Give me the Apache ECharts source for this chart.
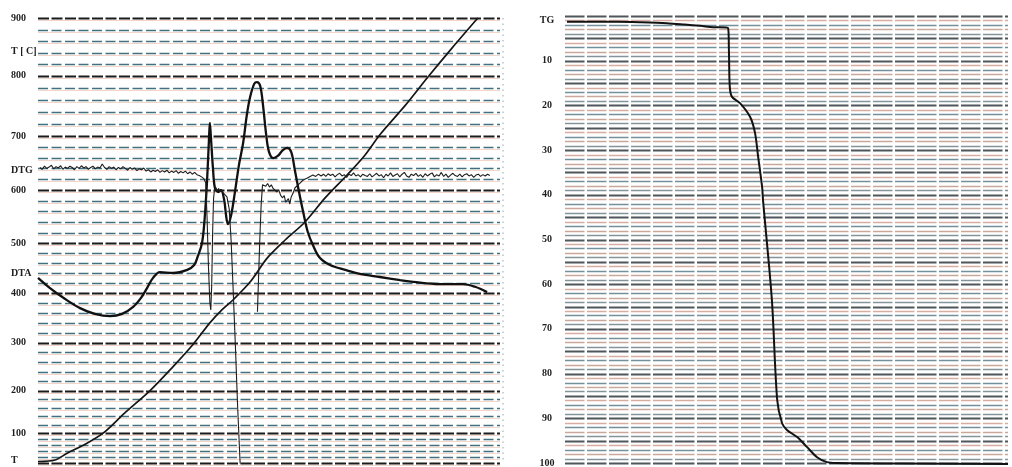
<!DOCTYPE html>
<html>
<head>
<meta charset="utf-8">
<script src="https://cdn.jsdelivr.net/npm/echarts@6/dist/echarts.min.js"></script>
<style>
  html, body { margin: 0; padding: 0; background: #ffffff; }
  #chart { width: 1012px; height: 467px; }
</style>
</head>
<body>
<div id="chart"></div>
<script>
// ---- Thermal analysis record: T, DTA, DTG (left) and TG (right) ----

// Temperature scale printed on the recorder paper (non-linear):
// °C against height on the paper, in % of the chart height.
const tempTicks      = [0, 100, 200, 300, 400, 500, 600, 700, 800, 900];
const tempTickHeight = [0, 6.7, 16.2, 27.0, 38.2, 49.4, 61.3, 73.5, 87.0, 100];
const tempTickLabels = ['T', '100', '200', '300', '400', '500', '600', '700', '800', '900'];
const tempMinorStep  = 20;

// Trace names written on the left margin, at the height of their base line
const traceNames   = ['T [ C]', 'DTG', 'DTA'];
const traceHeights = [92.6, 65.8, 42.7];

// TG scale: mass loss in % (0 at the top)
const tgTicks = [10, 20, 30, 40, 50, 60, 70, 80, 90, 100];
const tgName = 'TG';
const tgNameValue = 0.9;

// Furnace temperature, [time %, °C]
const tCurve = [
  [0, 5], [3.7, 10], [6.3, 33], [10.2, 63], [14.1, 100], [18.8, 148], [24.2, 200],
  [29.0, 248], [33.5, 296], [37.2, 340], [39.8, 366], [42.2, 386], [45.9, 422],
  [49.6, 470], [53.5, 506], [57.8, 540], [62.1, 585], [66.9, 628], [70.8, 665],
  [74.0, 702], [79.4, 750], [84.4, 798], [89.6, 848], [95.2, 900]
];

// DTA trace, [time %, height %]
const dtaCurve = [
  [0, 41.6], [2.6, 39.3], [5.8, 36.9], [9.1, 34.8], [12.3, 33.5], [15.6, 33.0],
  [18.2, 33.5], [20.6, 35.1], [22.3, 37.1], [23.6, 39.3], [24.9, 41.6], [26.4, 42.9],
  [29.2, 42.7], [32.3, 43.4], [33.8, 44.5], [34.6, 46.5], [35.5, 49.4], [36.1, 55.3],
  [36.6, 63.6], [37.0, 72.6], [37.2, 76.4], [37.4, 73.7], [37.9, 65.8], [38.3, 61.8],
  [39.0, 60.9], [39.6, 61.3], [40.3, 59.1], [40.7, 55.7], [41.1, 53.7], [41.8, 55.7],
  [42.6, 60.7], [43.5, 67.0], [44.4, 71.9], [45.2, 78.2], [45.9, 82.2], [46.8, 85.2],
  [47.4, 85.6], [48.1, 84.7], [48.7, 80.4], [49.4, 73.7], [50.0, 69.9], [50.9, 68.5],
  [51.9, 69.0], [53.0, 70.3], [53.9, 70.8], [54.8, 69.9], [55.6, 65.8], [56.5, 60.9],
  [57.4, 56.4], [58.4, 51.9], [59.5, 49.0], [61.0, 46.1], [63.2, 44.5], [66.5, 43.4],
  [69.7, 42.5], [74.0, 41.8], [78.4, 41.1], [81.2, 40.7], [87.0, 40.2], [92.0, 40.2],
  [94.6, 39.6], [97.2, 38.4]
];

// DTG trace, [time %, height %]; the second peak runs off the paper and
// the pen's return stroke is only visible in its upper part
const dtgCurve = [
  [0.4, 66.4], [0.9, 66.0], [1.4, 66.7], [1.9, 66.2], [2.4, 66.5], [2.9, 66.9], [3.4, 66.1],
  [3.9, 66.6], [4.4, 66.3], [4.9, 66.8], [5.4, 66.0], [5.9, 66.5], [6.4, 66.2], [6.9, 66.7],
  [7.4, 66.4], [7.9, 65.9], [8.4, 66.6], [8.9, 66.2], [9.4, 66.8], [9.9, 66.3], [10.4, 66.6],
  [10.9, 66.0], [11.4, 66.4], [11.9, 66.7], [12.4, 66.1], [12.9, 66.5], [13.4, 66.3], [13.9, 67.2],
  [14.4, 66.4], [14.9, 66.0], [15.4, 66.6], [15.9, 66.2], [16.4, 66.5], [16.9, 65.9], [17.4, 66.4],
  [17.9, 66.1], [18.4, 66.6], [18.9, 66.2], [19.4, 65.8], [19.9, 66.4], [20.4, 66.0], [20.9, 66.3],
  [21.4, 65.7], [21.9, 66.1], [22.4, 65.9], [22.9, 66.3], [23.4, 65.6], [23.9, 65.9], [24.4, 65.4],
  [24.9, 65.8], [25.4, 65.5], [25.9, 65.9], [26.4, 65.3], [26.9, 65.7], [27.4, 65.4], [27.9, 65.8],
  [28.4, 65.2], [28.9, 65.6], [29.4, 65.3], [29.9, 65.7], [30.4, 65.1], [30.9, 65.5], [31.4, 65.2],
  [31.9, 65.6], [32.4, 65.0], [32.9, 65.4], [33.4, 64.9], [33.9, 65.3], [34.4, 64.8], [34.9, 64.6],
  [35.4, 64.3], [35.9, 63.9], [36.3, 63.0],
  [36.6, 55], [36.9, 44], [37.2, 36], [37.4, 34.4], [37.6, 40], [37.8, 52], [38.0, 59.5],
  [38.2, 61.4], [38.5, 61.9], [38.8, 61.2], [39.1, 61.7], [39.4, 60.9], [39.7, 61.4], [40.0, 60.8],
  [40.4, 60.5], [40.9, 59.8], [41.4, 57], [41.8, 50], [42.2, 40], [42.7, 27], [43.2, 13],
  [43.7, 1], [44.0, -5], [45.5, null], [47.5, 34.0], [48.0, 50], [48.3, 58],
  [48.6, 62.5], [48.9, 62.9], [49.3, 62.2], [49.7, 62.8], [50.1, 62.0], [50.5, 62.5], [50.9, 61.7],
  [51.3, 62.0], [51.7, 60.9], [52.1, 61.4], [52.5, 60.2], [52.9, 59.6], [53.3, 60.1], [53.6, 58.6],
  [53.9, 58.4], [54.2, 59.4], [54.5, 58.2], [54.8, 59.8], [55.2, 60.6], [55.6, 61.8], [56.1, 62.3],
  [56.7, 62.9], [57.4, 63.6], [58.2, 64.0], [58.9, 64.4], [59.5, 64.7], [60.1, 64.4], [60.7, 64.9],
  [61.3, 64.5],
  [61.8, 64.9], [62.3, 64.4], [62.8, 65.0], [63.3, 64.6], [63.8, 64.9], [64.3, 64.3], [64.8, 64.8],
  [65.3, 65.1], [65.8, 64.5], [66.3, 64.8], [66.8, 64.2], [67.3, 64.9], [67.8, 64.6], [68.3, 65.2],
  [68.8, 64.5], [69.3, 64.8], [69.8, 64.3], [70.3, 64.9], [70.8, 64.6], [71.3, 64.4], [71.8, 65.0],
  [72.3, 64.3], [72.8, 64.7], [73.3, 65.1], [73.8, 64.5], [74.3, 64.8], [74.8, 64.1], [75.3, 64.9],
  [75.8, 64.5], [76.3, 65.2], [76.8, 64.4], [77.3, 64.7], [77.8, 65.0], [78.3, 64.3], [78.8, 64.9],
  [79.3, 65.3], [79.8, 64.5], [80.3, 64.2], [80.8, 64.9], [81.3, 64.6], [81.8, 65.1], [82.3, 64.4],
  [82.8, 64.8], [83.3, 64.2], [83.8, 65.0], [84.3, 64.5], [84.8, 64.9], [85.3, 65.2], [85.8, 64.3],
  [86.3, 64.8], [86.8, 64.5], [87.3, 65.3], [87.8, 64.4], [88.3, 64.9], [88.8, 64.2], [89.3, 64.7],
  [89.8, 65.1], [90.3, 64.6], [90.8, 64.4], [91.3, 64.9], [91.8, 64.3], [92.3, 64.8], [92.8, 65.0],
  [93.3, 64.5], [93.8, 64.8], [94.3, 64.2], [94.8, 64.7], [95.3, 64.9], [95.8, 64.4], [96.3, 64.8],
  [96.8, 64.5], [97.3, 64.9], [97.8, 64.6]
];

// TG trace, [time %, mass loss %]
const tgCurve = [
  [0.45, 1.3], [5, 1.3], [11.7, 1.3], [17, 1.4], [23, 1.6], [27, 1.9], [30.5, 2.2],
  [33.5, 2.5], [36.8, 2.7], [37.0, 7.6], [37.2, 15.9], [37.7, 18.1], [39.5, 19.5],
  [41.8, 22.6], [42.9, 26.2], [43.6, 31.5], [44.5, 38.3], [44.7, 41.2], [46.7, 63.5],
  [47.9, 85.9], [49.0, 91.1], [50.1, 92.6], [52.4, 94.2], [54.6, 96.4], [56.9, 98.7],
  [59.1, 99.8], [61.4, 100], [75.6, 100.1], [100, 100.2]
];
// pen start mark beside the TG trace
const tgPenMark = [[-0.7, 5.0], [-0.7, 7.6]];

// ---- scale helpers ----
function tempToHeight(t) {
  for (let i = 1; i < tempTicks.length; i++) {
    if (t <= tempTicks[i]) {
      const f = (t - tempTicks[i - 1]) / (tempTicks[i] - tempTicks[i - 1]);
      return tempTickHeight[i - 1] + f * (tempTickHeight[i] - tempTickHeight[i - 1]);
    }
  }
  return tempTickHeight[tempTickHeight.length - 1];
}

// rulings of the left paper: every 20 °C, bold every 100 °C
const leftRules = [];
for (let t = tempTicks[0]; t <= tempTicks[tempTicks.length - 1]; t += tempMinorStep) {
  leftRules.push([tempToHeight(t), t % 100 === 0 ? 0 : 1]);
}
// rulings of the right paper: every 1 %
const rightRules = [];
for (let v = 0; v <= 100; v++) rightRules.push([v, v % 5]);

const leftRuleStyles = [
  { stroke: '#1b1b1b', lineWidth: 2.1, lineDash: [11, 2.5] },
  { stroke: '#41707f', lineWidth: 1.3, lineDash: [10, 3.5] }
];
const rightRuleStyles = [
  { stroke: '#4f575a', lineWidth: 1.8 },
  { stroke: '#d6ad9e', lineWidth: 1.6 },
  { stroke: '#72919b', lineWidth: 1.6 },
  { stroke: '#c9a89a', lineWidth: 1.6 },
  { stroke: '#84959a', lineWidth: 1.6 }
];

function rulingSeries(axisIndex, rows, styles, withTint, dash, edgeDots) {
  return {
    type: 'custom',
    xAxisIndex: axisIndex,
    yAxisIndex: axisIndex,
    silent: true,
    z: 1,
    encode: { x: -1, y: 0 },
    data: rows,
    renderItem: function (params, api) {
      const cs = params.coordSys;
      const y = Math.round(api.coord([0, api.value(0)])[1]) + 0.5;
      const st = styles[api.value(1)];
      const children = [];
      if (withTint) {
        children.push({
          type: 'line',
          shape: { x1: cs.x, y1: y + 2, x2: cs.x + cs.width, y2: y + 2 },
          style: { stroke: 'rgba(228,150,120,0.40)', lineWidth: 1 }
        });
      }
      children.push({
        type: 'line',
        shape: { x1: cs.x, y1: y, x2: cs.x + cs.width, y2: y },
        style: { stroke: st.stroke, lineWidth: st.lineWidth, lineDash: st.lineDash || dash }
      });
      if (edgeDots && params.dataIndex === 0) {
        // perforation dots along the paper edge
        children.push({
          type: 'line',
          shape: { x1: cs.x + cs.width + 3, y1: cs.y, x2: cs.x + cs.width + 3, y2: cs.y + cs.height },
          style: { stroke: 'rgba(90,120,140,0.55)', lineWidth: 1.2, lineDash: [1.5, 4] }
        });
      }
      return { type: 'group', children: children };
    }
  };
}

const hiddenAxis = {
  type: 'value', min: 0, max: 100,
  axisLine: { show: false }, axisTick: { show: false },
  axisLabel: { show: false }, splitLine: { show: false }
};

const chart = echarts.init(document.getElementById('chart'), null, { renderer: 'canvas' });

const option = {
  backgroundColor: '#ffffff',
  animation: false,
  grid: [
    { left: 38, width: 462, top: 18, height: 445 },
    { left: 565, width: 443, top: 16, height: 447 }
  ],
  xAxis: [
    Object.assign({}, hiddenAxis, { gridIndex: 0 }),
    Object.assign({}, hiddenAxis, { gridIndex: 1 })
  ],
  yAxis: [
    Object.assign({}, hiddenAxis, { gridIndex: 0 }),
    Object.assign({}, hiddenAxis, { gridIndex: 1, inverse: true })
  ],
  series: [
    rulingSeries(0, leftRules, leftRuleStyles, true, [10, 3], true),
    rulingSeries(1, rightRules, rightRuleStyles, false, [19.5, 2.5], false),
    {
      name: 'T', type: 'line', xAxisIndex: 0, yAxisIndex: 0, z: 5,
      symbol: 'none', smooth: 0.3,
      data: tCurve.map(d => [d[0], tempToHeight(d[1])]),
      lineStyle: { color: '#151515', width: 1.7 }
    },
    {
      name: 'DTA', type: 'line', xAxisIndex: 0, yAxisIndex: 0, z: 5,
      symbol: 'none', smooth: 0.35,
      data: dtaCurve,
      lineStyle: { color: '#111111', width: 2.3 }
    },
    {
      name: 'DTG', type: 'line', xAxisIndex: 0, yAxisIndex: 0, z: 5,
      symbol: 'none', clip: true, connectNulls: false,
      data: dtgCurve,
      lineStyle: { color: '#1e1e1e', width: 1.1 }
    },
    {
      name: 'TG', type: 'line', xAxisIndex: 1, yAxisIndex: 1, z: 5,
      symbol: 'none', smooth: 0.3, clip: false,
      data: tgCurve,
      lineStyle: { color: '#121212', width: 2 }
    },
    {
      name: 'TG mark', type: 'line', xAxisIndex: 1, yAxisIndex: 1, z: 5,
      symbol: 'none', clip: false,
      data: tgPenMark,
      lineStyle: { color: '#222222', width: 1.8 }
    }
  ]
};

chart.setOption(option);

// margin lettering, placed through the axes' own scales
const labelFont = 'bold 10px "Liberation Serif", "DejaVu Serif", serif';
const graphics = [];
function leftText(text, h) {
  const y = chart.convertToPixel({ gridIndex: 0 }, [0, h])[1];
  graphics.push({
    type: 'text', x: 11, y: Math.min(y, 460), silent: true,
    style: { text: text, font: labelFont, fill: '#1e1e1e', align: 'left', verticalAlign: 'middle' }
  });
}
function rightText(text, v) {
  const y = chart.convertToPixel({ gridIndex: 1 }, [0, v])[1];
  graphics.push({
    type: 'text', x: 547, y: y, silent: true,
    style: { text: text, font: labelFont, fill: '#1e1e1e', align: 'center', verticalAlign: 'middle' }
  });
}
tempTicks.forEach((t, i) => leftText(tempTickLabels[i], tempTickHeight[i]));
traceNames.forEach((n, i) => leftText(n, traceHeights[i]));
rightText(tgName, tgNameValue);
tgTicks.forEach(v => rightText(String(v), v));

chart.setOption({ graphic: graphics });
</script>
</body>
</html>
